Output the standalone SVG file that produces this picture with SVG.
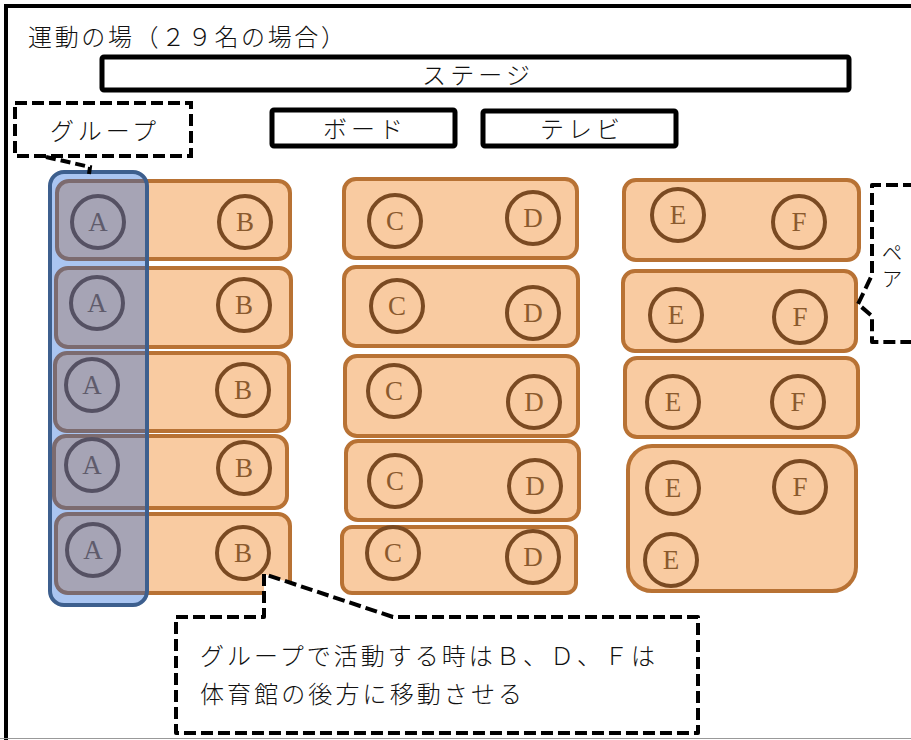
<svg xmlns="http://www.w3.org/2000/svg" width="911" height="740" viewBox="0 0 911 740">
<style>
.jp{font-family:"Noto Sans CJK JP","Noto Sans",sans-serif;font-size:24px;fill:#111;font-weight:300}
.box{fill:#fff;stroke:#000;stroke-width:5}
.dash{fill:#fff;stroke:#000;stroke-width:4;stroke-dasharray:12 5}
.row{fill:#f9cba1;stroke:#b87234;stroke-width:4}
.seat circle{fill:none;stroke:#7a4a22;stroke-width:4}
.seat text{font-family:"Liberation Serif","DejaVu Serif",serif;font-size:27px;fill:#8a5a2e;text-anchor:middle}
</style>
<rect width="911" height="740" fill="#fff"/>
<path d="M6,740 V6 H911" fill="none" stroke="#000" stroke-width="4"/>
<line x1="0" y1="738.5" x2="911" y2="738.5" stroke="#999" stroke-width="1"/>
<text id="title" class="jp" x="28" y="46" textLength="317" lengthAdjust="spacing">運動の場（２９名の場合）</text>

<g id="stage"><rect class="box" x="102" y="57" width="747" height="33" rx="2"/><text class="jp" x="476" y="84" text-anchor="middle" textLength="108" lengthAdjust="spacing">ステージ</text></g>
<g id="board"><rect class="box" x="272" y="110" width="183" height="36" rx="2"/><text class="jp" x="363" y="138" text-anchor="middle" textLength="80" lengthAdjust="spacing">ボード</text></g>
<g id="tv"><rect class="box" x="483" y="111" width="193" height="35" rx="2"/><text class="jp" x="580" y="138" text-anchor="middle" textLength="80" lengthAdjust="spacing">テレビ</text></g>

<g id="group-callout">
<rect class="dash" x="15" y="103" width="176" height="53"/>
<text class="jp" x="103" y="140" text-anchor="middle" textLength="106" lengthAdjust="spacing">グループ</text>
</g>

<g id="group-blue-base"><rect x="50" y="172" width="97" height="433" rx="14" fill="#fff"/></g>

<g id="rows-ab" class="seat">
<g id="ab1"><rect class="row" x="57" y="181" width="233" height="78" rx="12"/><circle cx="98" cy="222" r="26"/><text x="98" y="231">A</text><circle cx="245" cy="222" r="26"/><text x="245" y="231">B</text></g>
<g id="ab2"><rect class="row" x="56" y="268" width="235" height="79" rx="12"/><circle cx="97" cy="303" r="26"/><text x="97" y="312">A</text><circle cx="244" cy="305" r="26"/><text x="244" y="314">B</text></g>
<g id="ab3"><rect class="row" x="55" y="353" width="234" height="78" rx="12"/><circle cx="92" cy="385" r="26"/><text x="92" y="394">A</text><circle cx="243" cy="390" r="26"/><text x="243" y="399">B</text></g>
<g id="ab4"><rect class="row" x="54" y="436" width="233" height="72" rx="12"/><circle cx="92" cy="465" r="26"/><text x="92" y="474">A</text><circle cx="244" cy="468" r="26"/><text x="244" y="477">B</text></g>
<g id="ab5"><rect class="row" x="56" y="514" width="234" height="79" rx="12"/><circle cx="93" cy="550" r="26"/><text x="93" y="559">A</text><circle cx="243" cy="553" r="26"/><text x="243" y="562">B</text></g>
</g>

<g id="group-blue"><rect x="50" y="172" width="97" height="433" rx="14" fill="rgb(20,95,215)" fill-opacity="0.36"/><rect x="50" y="172" width="97" height="433" rx="14" fill="none" stroke="#3d5f8e" stroke-width="4"/></g>

<g id="rows-cd" class="seat">
<g id="cd1"><rect class="row" x="344" y="179" width="233" height="79" rx="12"/><circle cx="395" cy="221" r="26"/><text x="395" y="230">C</text><circle cx="533" cy="218" r="26"/><text x="533" y="227">D</text></g>
<g id="cd2"><rect class="row" x="344" y="267" width="234" height="79" rx="12"/><circle cx="397" cy="306" r="26"/><text x="397" y="315">C</text><circle cx="533" cy="313" r="26"/><text x="533" y="322">D</text></g>
<g id="cd3"><rect class="row" x="345" y="356" width="233" height="80" rx="12"/><circle cx="394" cy="391" r="26"/><text x="394" y="400">C</text><circle cx="534" cy="402" r="26"/><text x="534" y="411">D</text></g>
<g id="cd4"><rect class="row" x="346" y="441" width="233" height="79" rx="12"/><circle cx="395" cy="481" r="26"/><text x="395" y="490">C</text><circle cx="535" cy="486" r="26"/><text x="535" y="495">D</text></g>
<g id="cd5"><rect class="row" x="342" y="527" width="234" height="66" rx="10"/><circle cx="393" cy="553" r="26"/><text x="393" y="562">C</text><circle cx="533" cy="557" r="26"/><text x="533" y="566">D</text></g>
</g>

<g id="rows-ef" class="seat">
<g id="ef1"><rect class="row" x="624" y="180" width="235" height="80" rx="12"/><circle cx="678" cy="215" r="26"/><text x="678" y="224">E</text><circle cx="799" cy="222" r="26"/><text x="799" y="231">F</text></g>
<g id="ef2"><rect class="row" x="623" y="271" width="233" height="80" rx="12"/><circle cx="676" cy="315" r="26"/><text x="676" y="324">E</text><circle cx="800" cy="317" r="26"/><text x="800" y="326">F</text></g>
<g id="ef3"><rect class="row" x="625" y="358" width="233" height="79" rx="12"/><circle cx="673" cy="402" r="26"/><text x="673" y="411">E</text><circle cx="798" cy="402" r="26"/><text x="798" y="411">F</text></g>
<g id="ef4"><rect class="row" x="628" y="446" width="228" height="145" rx="24"/><circle cx="673" cy="488" r="26"/><text x="673" y="497">E</text><circle cx="800" cy="487" r="26"/><text x="800" y="496">F</text><circle cx="671" cy="560" r="26"/><text x="671" y="569">E</text></g>
</g>

<g id="pair-callout">
<path class="dash" d="M915,185 H872 V275 L858,304 L872,316 V342 H915" stroke-linejoin="round"/>
<text class="jp" x="892" y="242" style="font-size:21px;writing-mode:vertical-rl;letter-spacing:5px">ペア</text>
</g>

<g id="note-callout">
<path class="dash" d="M176,617 H264 V574 L393,617 H698 V733 H176 Z" stroke-linejoin="round"/>
<text class="jp" x="200" y="665" textLength="455" lengthAdjust="spacing">グループで活動する時はＢ、Ｄ、Ｆは</text>
<text class="jp" x="200" y="703" textLength="322" lengthAdjust="spacing">体育館の後方に移動させる</text>
</g>

<g id="connectors">
<path d="M46,157 L90,167 L89,174" fill="none" stroke="#000" stroke-width="4" stroke-dasharray="10 5"/>
</g>
</svg>
